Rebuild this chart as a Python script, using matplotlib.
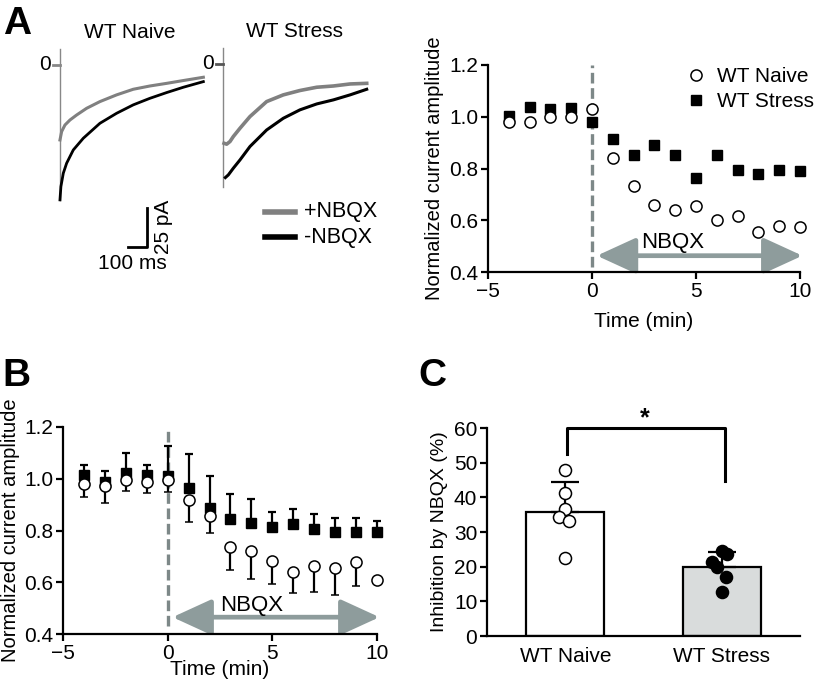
import numpy as np
import matplotlib.pyplot as plt
from matplotlib.patches import FancyArrowPatch

plt.rcParams['font.family'] = ['Liberation Sans', 'DejaVu Sans']

W, H = 826, 686

# ---- panel A: example traces (ms, pA)
naive_plus_t = [0, 9, 27, 54, 90, 144, 216, 306, 396, 486, 577, 667, 775]
naive_plus_i = [-48.1, -42.7, -38.5, -35.3, -32.1, -27.8, -23.5, -19.2, -15.6, -13.5, -11.8, -10.0, -7.9]
naive_minus_t = [0, 5, 18, 36, 72, 126, 216, 306, 396, 486, 577, 667, 775]
naive_minus_i = [-86.5, -78.0, -69.4, -63.0, -54.5, -47.0, -37.4, -31.0, -25.6, -21.4, -17.7, -14.3, -10.7]
stress_plus_t = [4, 18, 36, 54, 90, 144, 234, 324, 414, 505, 595, 685, 775]
stress_plus_i = [-50.2, -50.8, -49.1, -45.9, -40.6, -33.1, -23.5, -19.2, -16.4, -14.3, -13.5, -12.2, -11.8]
stress_minus_t = [11, 27, 54, 90, 144, 234, 324, 414, 505, 595, 685, 775]
stress_minus_i = [-72.2, -70.5, -66.2, -60.9, -52.3, -41.7, -34.2, -28.8, -25.0, -22.4, -19.2, -15.6]

# ---- panel A right: single example time course
time_min = np.arange(-4, 11)
a_naive = [0.98, 0.98, 1.00, 1.00, 1.03, 0.84, 0.733, 0.66, 0.641, 0.657, 0.602, 0.615, 0.554, 0.576, 0.574]
a_stress = [1.003, 1.039, 1.03, 1.035, 0.978, 0.914, 0.853, 0.891, 0.853, 0.765, 0.853, 0.795, 0.778, 0.795, 0.791]

# ---- panel B: group averages
b_naive = [0.979, 0.971, 0.995, 0.988, 0.995, 0.917, 0.857, 0.738, 0.722, 0.684, 0.639, 0.661, 0.654, 0.677, 0.609]
b_naive_err = [0.049, 0.064, 0.043, 0.045, 0.045, 0.083, 0.068, 0.090, 0.110, 0.090, 0.081, 0.097, 0.105, 0.093, 0.0]
b_stress = [1.016, 0.988, 1.023, 1.016, 1.010, 0.966, 0.888, 0.843, 0.830, 0.815, 0.825, 0.805, 0.793, 0.793, 0.793]
b_stress_err = [0.036, 0.041, 0.077, 0.036, 0.117, 0.129, 0.122, 0.098, 0.091, 0.058, 0.058, 0.057, 0.056, 0.056, 0.045]

# ---- panel C: inhibition by NBQX
groups = ['WT Naive', 'WT Stress']
c_mean = [35.8, 19.9]
c_sem = [8.7, 4.2]
c_naive_pts = [47.9, 41.3, 36.6, 34.4, 33.2, 22.4]
c_stress_pts = [24.6, 23.6, 21.4, 19.8, 17.0, 12.7]
c_naive_dx = [0, 0, 0, -0.037, 0.027, 0]
c_stress_dx = [0, 0.032, -0.064, -0.032, 0.028, 0]

GRAY_DASH = '#7d8888'
ARROW_C = '#8e9c9c'
FS = 15


def box(x0, y0, x1, y1):
    return [x0 / W, 1 - y1 / H, (x1 - x0) / W, (y1 - y0) / H]


def style_axes(ax):
    for s in ['top', 'right']:
        ax.spines[s].set_visible(False)
    for s in ['left', 'bottom']:
        ax.spines[s].set_linewidth(1.6)
    ax.tick_params(direction='out', length=5, width=1.6, labelsize=FS, pad=2)


def nbqx_arrow(ax, y):
    arr = FancyArrowPatch((0.1, y), (10.25, y), arrowstyle='<|-|>,head_length=24,head_width=11',
                          mutation_scale=1, color=ARROW_C, lw=3.4, clip_on=False, zorder=2)
    ax.add_patch(arr)


fig = plt.figure(figsize=(W / 100, H / 100), dpi=100)

# ---------------- traces
ax_tr = fig.add_axes(box(30, 20, 410, 320))
ax_tr.set_xlim(-162, 1892)
ax_tr.set_ylim(-163.5, 28.8)
ax_tr.axis('off')
gap = 883
ax_tr.plot([0, 0], [10, -86.5], color='#888888', lw=1)
ax_tr.plot([gap - 4, gap - 4], [10.7, -78], color='#888888', lw=1)
ax_tr.plot([-38, 0], [0, 0], color='#888888', lw=2)
ax_tr.plot([gap - 40, gap - 4], [0.5, 0.5], color='#555555', lw=2)
ax_tr.plot(naive_plus_t, naive_plus_i, color='#808080', lw=2.2)
ax_tr.plot(naive_minus_t, naive_minus_i, color='black', lw=2)
ax_tr.plot(np.array(stress_plus_t) + gap, stress_plus_i, color='#808080', lw=2.6)
ax_tr.plot(np.array(stress_minus_t) + gap, stress_minus_i, color='black', lw=2.2)
ax_tr.text(-50, 0, '0', ha='right', va='center', fontsize=FS)
ax_tr.text(gap - 50, 1, '0', ha='right', va='center', fontsize=FS)
ax_tr.text(378, 20.5, 'WT Naive', ha='center', va='center', fontsize=FS)
ax_tr.text(gap + 385, 21.2, 'WT Stress', ha='center', va='center', fontsize=FS)
# scale bar 100 ms / 25 pA
ax_tr.plot([370, 470, 470], [-116.7, -116.7, -91.7], color='black', lw=2)
ax_tr.text(510, -104, '25 pA', rotation=90, ha='left', va='center', fontsize=FS)
ax_tr.text(390, -121, '100 ms', ha='center', va='top', fontsize=FS)
# legend
ax_tr.plot([1108, 1270], [-94.2, -94.2], color='#808080', lw=4)
ax_tr.plot([1108, 1270], [-110.3, -110.3], color='black', lw=4)
ax_tr.text(1320, -94.2, '+NBQX', va='center', fontsize=FS + 0.5)
ax_tr.text(1320, -110.3, '-NBQX', va='center', fontsize=FS + 0.5)

# ---------------- A right
axA = fig.add_axes(box(488, 65, 800, 272))
style_axes(axA)
axA.set_xlim(-5, 10)
axA.set_ylim(0.4, 1.2)
axA.set_xticks([-5, 0, 5, 10])
axA.set_yticks([0.4, 0.6, 0.8, 1.0, 1.2])
axA.set_yticklabels(['0.4', '0.6', '0.8', '1.0', '1.2'])
axA.plot([0, 0], [0.42, 1.2], ls=(0, (3.2, 1.4)), color=GRAY_DASH, lw=2.4, zorder=1)
axA.plot(time_min, a_stress, 's', color='black', ms=7, clip_on=False, zorder=3, label='WT Stress')
axA.plot(time_min, a_naive, 'o', mfc='white', mec='black', mew=1.1, ms=8, clip_on=False,
         zorder=4, label='WT Naive')
nbqx_arrow(axA, 0.463)
axA.text(3.9, 0.515, 'NBQX', ha='center', va='center', fontsize=FS + 1)
axA.set_xlabel('Time (min)', fontsize=FS, labelpad=8)
axA.set_ylabel('Normalized current amplitude', fontsize=FS - 0.5, labelpad=4)
h, l = axA.get_legend_handles_labels()
axA.legend(h[::-1], l[::-1], loc='upper right', bbox_to_anchor=(1.045, 0.99), frameon=False,
           fontsize=FS, handletextpad=0.5, borderaxespad=0, borderpad=0, labelspacing=0.3,
           handlelength=1)

# ---------------- B
axB = fig.add_axes(box(63, 427, 377, 634))
style_axes(axB)
axB.set_xlim(-5, 10)
axB.set_ylim(0.4, 1.2)
axB.set_xticks([-5, 0, 5, 10])
axB.set_yticks([0.4, 0.6, 0.8, 1.0, 1.2])
axB.set_yticklabels(['0.4', '0.6', '0.8', '1.0', '1.2'])
axB.plot([0, 0], [0.43, 1.2], ls=(0, (3.2, 1.4)), color=GRAY_DASH, lw=2.4, zorder=1)
axB.errorbar(time_min, b_stress, yerr=[np.zeros(len(b_stress)), b_stress_err], fmt='s',
             color='black', ms=7, elinewidth=1.6, capsize=3, capthick=1.6, clip_on=False, zorder=3)
axB.errorbar(time_min, b_naive, yerr=[b_naive_err, np.zeros(len(b_naive))], fmt='o',
             mfc='white', mec='black', mew=1.1, ms=8, ecolor='black', elinewidth=1.6,
             capsize=3, capthick=1.6, clip_on=False, zorder=4)
nbqx_arrow(axB, 0.465)
axB.text(4.0, 0.512, 'NBQX', ha='center', va='center', fontsize=FS + 1)
axB.set_xlabel('Time (min)', fontsize=FS, labelpad=-2)
axB.set_ylabel('Normalized current amplitude', fontsize=FS - 0.5, labelpad=3)

# ---------------- C
axC = fig.add_axes(box(487, 428, 800, 636))
style_axes(axC)
axC.set_xlim(-0.5, 1.5)
axC.set_ylim(0, 60)
axC.set_yticks(range(0, 61, 10))
xs = np.arange(len(groups))
axC.bar(xs, c_mean, width=0.5, color=['white', '#d9dcdc'], edgecolor='black', lw=1.6, zorder=2)
axC.errorbar(xs, c_mean, yerr=[[0, 0], c_sem], fmt='none', ecolor='black', elinewidth=1.6,
             capsize=10, capthick=1.6, zorder=3)
axC.scatter(xs[0] + np.array(c_naive_dx), c_naive_pts, s=75, facecolor='white', edgecolor='black',
            lw=1.1, zorder=4)
axC.scatter(xs[1] + np.array(c_stress_dx), c_stress_pts, s=75, facecolor='black', edgecolor='black',
            lw=1.1, zorder=4)
axC.set_xticks(xs)
axC.set_xticklabels(groups, fontsize=FS)
axC.tick_params(axis='x', length=0, pad=8)
axC.plot([0.01, 0.01, 1.02, 1.02], [52.6, 60, 60, 44.8], color='black', lw=2.2, clip_on=False)
axC.text(0.51, 59.3, '*', ha='center', va='bottom', fontsize=18, fontweight='bold')
axC.set_ylabel('Inhibition by NBQX (%)', fontsize=FS - 1, labelpad=4)

# panel letters
for lab, px, py in [('A', 3, 6), ('B', 2, 358), ('C', 418, 358)]:
    fig.text(px / W, 1 - py / H, lab, fontsize=28, fontweight='bold', ha='left', va='top')

fig.savefig('out.png', dpi=100)
